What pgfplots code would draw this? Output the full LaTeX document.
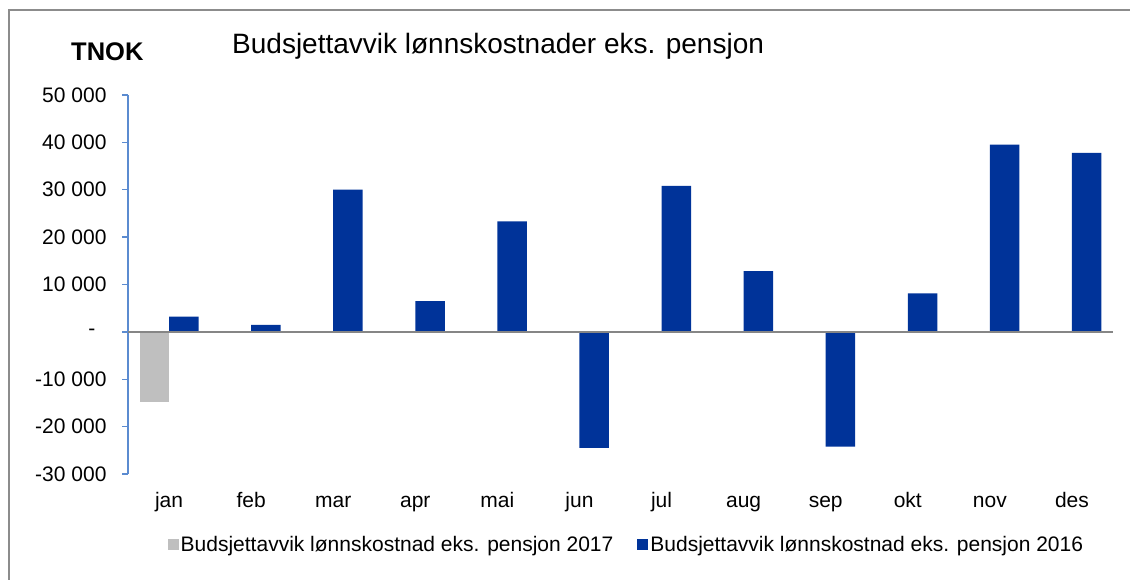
\documentclass[border=0pt]{standalone}
\usepackage{pgfplots}
\pgfplotsset{compat=1.18}
\usepackage{fontspec}
\setmainfont{Liberation Sans}
\definecolor{barblue}{RGB}{0,51,153}
\definecolor{bargray}{RGB}{191,191,191}
\definecolor{axblue}{RGB}{91,139,208}
\definecolor{framegray}{RGB}{140,140,140}
\definecolor{zerogray}{RGB}{134,134,134}
\begin{document}
\begin{tikzpicture}[x=1pt,y=1pt]
\useasboundingbox (0,0) rectangle (1130,580);
\draw[framegray, line width=2pt] (9,-5) -- (9,570) -- (1135,570);
\node[anchor=base west, inner sep=0pt, font=\fontsize{28}{34}\selectfont] at (232,526.5) {Budsjettavvik lønnskostnader eks. pensjon};
\node[anchor=base west, inner sep=0pt, font=\fontsize{25.5}{30}\selectfont\bfseries] at (71,519) {TNOK};
\begin{axis}[
  at={(128pt,106pt)}, anchor=south west,
  width=985pt, height=379pt, scale only axis,
  xmin=-0.5, xmax=11.5, ymin=-30000, ymax=50000,
  scaled y ticks=false,
  axis y line*=left, axis x line*=bottom,
  x axis line style={draw=none},
  y axis line style={draw=axblue, line width=1.3pt},
  xtick={0,...,11},
  xticklabels={jan,feb,mar,apr,mai,jun,jul,aug,sep,okt,nov,des},
  xtick style={draw=none},
  xticklabel style={anchor=base, yshift=-28pt, font=\fontsize{21}{25}\selectfont},
  ytick={-30000,-20000,...,50000},
  yticklabels={{-30 000},{-20 000},{-10 000},{-\hspace*{11pt}},{10 000},{20 000},{30 000},{40 000},{50 000}},
  yticklabel style={font=\fontsize{21}{25}\selectfont, xshift=-12pt},
  ytick style={draw=axblue, line width=1.3pt},
  tick align=outside, major tick length=6pt,
  ybar=0pt, bar width=29.5pt,
  legend columns=2,
  legend style={draw=none, fill=none, at={(0.506,-0.187)}, anchor=center,
    font=\fontsize{21}{25}\selectfont,
    /tikz/every even column/.append style={column sep=22pt}},
  legend image code/.code={\fill[#1] (0pt,-5pt) rectangle (11pt,6pt);},
  clip=false,
]
\addplot[fill=bargray, draw=none] coordinates {(0,-14900)};
\addplot[fill=barblue, draw=none] coordinates {
(0,3200) (1,1500) (2,30000) (3,6500) (4,23300) (5,-24500)
(6,30800) (7,12800) (8,-24200) (9,8100) (10,39500) (11,37800)};
\draw[zerogray, line width=2pt] (axis cs:-0.5,0) -- (axis cs:11.5,0);
\legend{Budsjettavvik lønnskostnad eks. pensjon 2017, Budsjettavvik lønnskostnad eks. pensjon 2016}
\end{axis}
\end{tikzpicture}
\end{document}
